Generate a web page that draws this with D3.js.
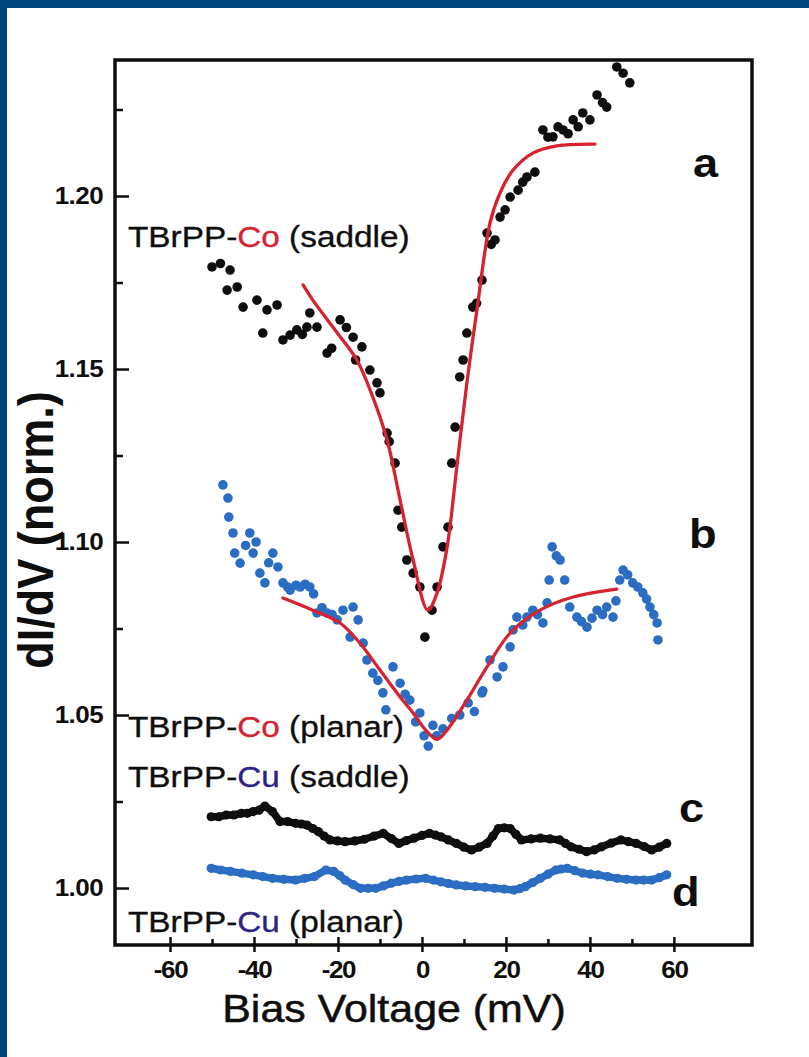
<!DOCTYPE html>
<html>
<head>
<meta charset="utf-8">
<script src="https://cdn.jsdelivr.net/npm/d3@7"></script>
<style>
  html, body { margin: 0; padding: 0; background: #ffffff; }
  svg { display: block; }
  text { font-family: "Liberation Sans", Arial, Helvetica, sans-serif; }
</style>
</head>
<body>
<svg id="chart" width="809" height="1057"></svg>
<script>
// ---------------- DATA ----------------
const xTickValues = [-60, -40, -20, 0, 20, 40, 60];
const xMinorTicks = [-50, -30, -10, 10, 30, 50];
const yTickValues = [1.00, 1.05, 1.10, 1.15, 1.20];
const yMinorTicks = [1.025, 1.075, 1.125, 1.175, 1.225];
const yTickLabels = ["1.00", "1.05", "1.10", "1.15", "1.20"];

// a: TBrPP-Co (saddle), black dots
const aBias = [-50.0,-48.0,-46.4,-45.7,-44.0,-42.6,-39.3,-37.9,-36.9,-34.5,-33.1,-31.4,-29.8,-28.5,-27.4,-26.7,-25.0,-22.6,-21.5,-19.5,-18.0,-16.4,-15.8,-14.3,-12.4,-10.7,-10.0,-8.3,-7.8,-6.4,-5.7,-4.8,-3.6,-2.1,-0.5,0.7,2.4,3.6,5.0,6.2,7.1,7.9,9.0,9.8,10.7,12.1,13.0,14.3,15.5,16.5,17.4,18.6,19.8,21.0,22.9,24.0,25.0,26.9,28.8,30.0,31.2,32.4,33.6,34.8,36.0,37.2,38.3,40.0,41.7,43.0,44.0,46.4,47.9,49.5];
const aDIdV = [1.1795,1.1805,1.1728,1.1786,1.1737,1.1679,1.1699,1.1604,1.1671,1.1685,1.1584,1.1598,1.1613,1.1600,1.1621,1.1662,1.1621,1.1546,1.1560,1.1642,1.1620,1.1592,1.1526,1.1564,1.1497,1.1460,1.1431,1.1315,1.1290,1.1228,1.1092,1.1043,1.0948,1.0910,1.0870,1.0725,1.0803,1.0870,1.0986,1.1043,1.1228,1.1332,1.1477,1.1526,1.1604,1.1679,1.1690,1.1757,1.1893,1.1860,1.1873,1.1939,1.1960,1.1997,1.2017,1.2040,1.2055,1.2069,1.2191,1.2170,1.2171,1.2200,1.2191,1.2180,1.2220,1.2200,1.2240,1.2220,1.2292,1.2270,1.2257,1.2373,1.2355,1.2327];

// b: TBrPP-Co (planar), blue dots
const bBias = [-47.4,-46.2,-46.0,-45.0,-44.6,-43.3,-42.0,-41.0,-40.2,-39.5,-38.6,-37.4,-36.5,-35.5,-34.3,-33.1,-32.0,-31.4,-30.0,-29.0,-27.8,-26.7,-25.8,-25.0,-23.8,-22.6,-21.4,-20.2,-18.8,-17.1,-16.4,-15.2,-14.0,-13.1,-11.7,-10.5,-9.3,-8.6,-6.9,-5.2,-4.0,-2.9,-1.5,-0.5,0.5,1.5,2.6,3.5,5.0,7.1,9.0,11.0,12.5,14.3,14.5,16.2,17.9,19.3,21.0,21.7,22.6,24.0,25.0,26.4,27.5,28.8,29.8,30.3,31.0,32.0,32.9,34.0,35.2,36.9,38.0,39.3,40.5,41.7,43.0,44.0,45.5,46.2,47.1,47.9,49.0,50.2,51.4,52.6,53.5,54.3,55.2,56.0,56.2];
const bDIdV = [1.1165,1.1127,1.1072,1.1026,1.0968,1.0939,1.0990,1.1026,1.0968,1.1000,1.0910,1.0882,1.0940,1.0968,1.0928,1.0882,1.0870,1.0861,1.0875,1.0870,1.0878,1.0870,1.0850,1.0795,1.0810,1.0795,1.0790,1.0775,1.0803,1.0725,1.0812,1.0775,1.0708,1.0659,1.0621,1.0600,1.0564,1.0515,1.0639,1.0592,1.0560,1.0543,1.0480,1.0506,1.0440,1.0410,1.0470,1.0440,1.0460,1.0490,1.0500,1.0535,1.0510,1.0564,1.0570,1.0659,1.0610,1.0639,1.0697,1.0746,1.0783,1.0760,1.0783,1.0803,1.0790,1.0766,1.0824,1.0890,1.0986,1.0960,1.0948,1.0890,1.0812,1.0783,1.0770,1.0754,1.0780,1.0803,1.0790,1.0812,1.0783,1.0830,1.0890,1.0919,1.0905,1.0882,1.0870,1.0853,1.0835,1.0812,1.0790,1.0766,1.0717];

// c: TBrPP-Cu (saddle), black dots
const cBias = [-50.2,-48.4,-46.6,-44.8,-43.0,-41.6,-40.2,-38.8,-37.4,-35.6,-33.8,-32.0,-30.1,-28.7,-27.4,-26.0,-24.7,-23.3,-21.9,-20.1,-18.3,-16.0,-13.7,-11.4,-9.2,-7.3,-5.5,-3.7,-1.9,0.0,1.8,3.2,4.5,6.3,8.2,10.0,11.8,13.6,15.5,16.9,18.2,19.6,21.0,22.4,23.7,26.0,28.2,30.5,32.8,34.2,35.5,37.4,39.2,41.0,42.8,45.1,47.4,49.2,51.0,52.9,54.7,56.5,58.3];
const cDIdV = [1.0206,1.0206,1.0211,1.0211,1.0216,1.0216,1.0221,1.0225,1.0237,1.0221,1.0192,1.0192,1.0187,1.0185,1.0182,1.0172,1.0163,1.0150,1.0139,1.0136,1.0134,1.0136,1.0141,1.0150,1.0158,1.0143,1.0129,1.0137,1.0144,1.0152,1.0158,1.0153,1.0148,1.0139,1.0129,1.0118,1.0110,1.0118,1.0129,1.0150,1.0172,1.0174,1.0172,1.0155,1.0139,1.0142,1.0144,1.0142,1.0139,1.0129,1.0119,1.0112,1.0105,1.0110,1.0119,1.0130,1.0139,1.0134,1.0129,1.0120,1.0110,1.0118,1.0129];

// d: TBrPP-Cu (planar), blue dots
const dBias = [-50.2,-47.9,-45.6,-42.9,-40.2,-37.9,-35.6,-32.9,-30.1,-27.9,-25.6,-22.9,-21.0,-19.6,-18.3,-16.4,-14.6,-12.8,-11.0,-9.2,-7.3,-5.5,-3.7,-1.4,0.9,2.7,4.5,6.3,8.2,10.4,12.7,15.0,17.3,19.6,21.9,23.3,24.6,26.4,28.2,30.0,31.9,33.2,34.6,36.4,38.3,40.1,41.9,44.2,46.5,48.7,51.0,52.8,54.7,56.5,58.3];
const dDIdV = [1.0057,1.0052,1.0048,1.0043,1.0038,1.0033,1.0028,1.0025,1.0023,1.0028,1.0033,1.0052,1.0048,1.0036,1.0023,1.0010,0.9999,0.9999,0.9999,1.0006,1.0014,1.0019,1.0023,1.0026,1.0028,1.0023,1.0018,1.0013,1.0009,1.0006,1.0004,1.0002,0.9999,0.9997,0.9994,0.9998,1.0004,1.0016,1.0028,1.0040,1.0052,1.0055,1.0057,1.0050,1.0043,1.0040,1.0038,1.0033,1.0028,1.0025,1.0023,1.0023,1.0023,1.0030,1.0038];

// red fit curves
const fitABias = [-28.3,-26.0,-20.2,-15.5,-11.7,-8.3,-5.2,-2.1,1.4,3.6,6.0,8.3,10.7,13.1,16.2,18.6,21.7,26.4,32.1,41.2];
const fitADIdV = [1.1743,1.1699,1.1605,1.1526,1.1419,1.1295,1.1121,1.0948,1.0803,1.0853,1.0986,1.1217,1.1460,1.1671,1.1922,1.2009,1.2075,1.2124,1.2145,1.2150];
const fitBBias = [-33.1,-26.0,-19.5,-14.8,-10.0,-5.2,-2.1,1.0,3.6,6.5,10.7,15.5,21.0,28.1,36.0,46.4];
const fitBDIdV = [1.0838,1.0803,1.0766,1.0708,1.0630,1.0552,1.0506,1.0455,1.0430,1.0465,1.0543,1.0639,1.0737,1.0803,1.0841,1.0864];

const curveLetters = ["a", "b", "c", "d"];
const sampleLabels = [
  ["TBrPP-", "Co", " (saddle)"],
  ["TBrPP-", "Co", " (planar)"],
  ["TBrPP-", "Cu", " (saddle)"],
  ["TBrPP-", "Cu", " (planar)"]
];
const xTitle = "Bias Voltage (mV)";
const yTitle = "dI/dV (norm.)";

// ---------------- DRAW ----------------
const svg = d3.select("#chart");
const W = 809, H = 1057;
const L = 115, R = 752, T = 60, B = 945;
const SX = 1.13; // horizontal glyph stretch seen in the reference

const blueFrame = "#00467d";
const black = "#0e0e0e";
const blue = "#2a6dc3";
const red = "#d6232f";
const navy = "#2c2385";

svg.append("rect").attr("x", 0).attr("y", 0).attr("width", W).attr("height", H).attr("fill", "#fff");
svg.append("rect").attr("x", 0).attr("y", 0).attr("width", W).attr("height", 8).attr("fill", blueFrame);
svg.append("rect").attr("x", 0).attr("y", 0).attr("width", 7).attr("height", H).attr("fill", blueFrame);

const x = d3.scaleLinear().domain([-73.1, 78.6]).range([L, R]);
const y = d3.scaleLinear().domain([0.98353, 1.23931]).range([B, T]);

const zip = (xs, ys) => xs.map((v, i) => [v, ys[i]]);

// axes
const xAxisMajor = d3.axisBottom(x).tickValues(xTickValues)
  .tickSizeInner(-8).tickSizeOuter(0).tickPadding(17)
  .tickFormat(d => String(d));
const gx = svg.append("g").attr("transform", `translate(0,${B})`).call(xAxisMajor);
gx.select(".domain").remove();
gx.selectAll(".tick line").attr("stroke", black).attr("stroke-width", 2.5);
gx.selectAll(".tick text").attr("fill", black).attr("font-size", 23).attr("font-weight", "bold")
  .attr("letter-spacing", -1.2).attr("transform", `scale(${SX},1)`);

const xAxisOut = d3.axisBottom(x).tickValues(xTickValues).tickSizeInner(7).tickSizeOuter(0).tickFormat("");
const gx2 = svg.append("g").attr("transform", `translate(0,${B})`).call(xAxisOut);
gx2.select(".domain").remove();
gx2.selectAll(".tick line").attr("stroke", black).attr("stroke-width", 2.5);

const xAxisMinor = d3.axisBottom(x).tickValues(xMinorTicks).tickSizeInner(-6).tickSizeOuter(0).tickFormat("");
const gx3 = svg.append("g").attr("transform", `translate(0,${B})`).call(xAxisMinor);
gx3.select(".domain").remove();
gx3.selectAll(".tick line").attr("stroke", black).attr("stroke-width", 2.5);

const yAxisMajor = d3.axisLeft(y).tickValues(yTickValues)
  .tickSizeInner(-14).tickSizeOuter(0).tickPadding(10.6)
  .tickFormat((d, i) => yTickLabels[i]);
const gy = svg.append("g").attr("transform", `translate(${L},0)`).call(yAxisMajor);
gy.select(".domain").remove();
gy.selectAll(".tick line").attr("stroke", black).attr("stroke-width", 2.5);
gy.selectAll(".tick text").attr("fill", black).attr("font-size", 23).attr("font-weight", "bold")
  .attr("letter-spacing", -0.5).attr("transform", `scale(${SX},1)`);

const yAxisMinor = d3.axisLeft(y).tickValues(yMinorTicks).tickSizeInner(-8).tickSizeOuter(0).tickFormat("");
const gy2 = svg.append("g").attr("transform", `translate(${L},0)`).call(yAxisMinor);
gy2.select(".domain").remove();
gy2.selectAll(".tick line").attr("stroke", black).attr("stroke-width", 2.5);

// frame
svg.append("rect").attr("x", L).attr("y", T).attr("width", R - L).attr("height", B - T)
  .attr("fill", "none").attr("stroke", black).attr("stroke-width", 3.5);

// series drawing
const chainLine = d3.line().x(d => x(d[0])).y(d => y(d[1])).curve(d3.curveLinear);
function drawChain(data, color) {
  svg.append("path").datum(data).attr("d", chainLine)
    .attr("fill", "none").attr("stroke", color).attr("stroke-width", 7.5)
    .attr("stroke-linejoin", "round").attr("stroke-linecap", "round");
  svg.append("g").selectAll("circle").data(data).join("circle")
    .attr("cx", d => x(d[0])).attr("cy", d => y(d[1])).attr("r", 4.6).attr("fill", color);
}
function drawDots(data, color) {
  svg.append("g").selectAll("circle").data(data).join("circle")
    .attr("cx", d => x(d[0])).attr("cy", d => y(d[1])).attr("r", 4.8).attr("fill", color);
}

drawDots(zip(aBias, aDIdV), black);
drawDots(zip(bBias, bDIdV), blue);
drawChain(zip(cBias, cDIdV), black);
drawChain(zip(dBias, dDIdV), blue);

// fits
const fitLine = d3.line().x(d => x(d[0])).y(d => y(d[1])).curve(d3.curveCatmullRom.alpha(0.5));
[[fitABias, fitADIdV], [fitBBias, fitBDIdV]].forEach(([xs, ys]) => {
  svg.append("path").datum(zip(xs, ys)).attr("d", fitLine)
    .attr("fill", "none").attr("stroke", red).attr("stroke-width", 3.3)
    .attr("stroke-linejoin", "round").attr("stroke-linecap", "round");
});

// sample labels
const labelPos = [[128, 247], [128, 737], [128, 787], [128, 932]];
sampleLabels.forEach((parts, i) => {
  const t = svg.append("text")
    .attr("transform", `translate(${labelPos[i][0]},${labelPos[i][1]}) scale(${SX},1)`)
    .attr("font-size", 29.5).attr("fill", black)
    .attr("stroke", black).attr("stroke-width", 0.35);
  parts.forEach((p, j) => {
    const c = j === 1 ? (p === "Co" ? red : navy) : black;
    t.append("tspan").text(p).attr("fill", c).attr("stroke", c);
  });
});

// curve letters
const letterPos = [[693, 177], [689, 548], [679, 822], [672, 906]];
curveLetters.forEach((s, i) => {
  svg.append("text")
    .attr("transform", `translate(${letterPos[i][0]},${letterPos[i][1]}) scale(${SX},1)`)
    .attr("font-size", 40).attr("font-weight", "bold").attr("fill", black).text(s);
});

// axis titles
svg.append("text").attr("transform", `translate(394,1022) scale(${SX},1)`).attr("text-anchor", "middle")
  .attr("font-size", 38).attr("fill", black).attr("stroke", black).attr("stroke-width", 0.5).text(xTitle);
svg.append("text").attr("transform", `translate(53,530) scale(${SX},1) rotate(-90)`).attr("text-anchor", "middle")
  .attr("font-size", 45).attr("font-weight", "bold").attr("fill", black).text(yTitle);
</script>
</body>
</html>
